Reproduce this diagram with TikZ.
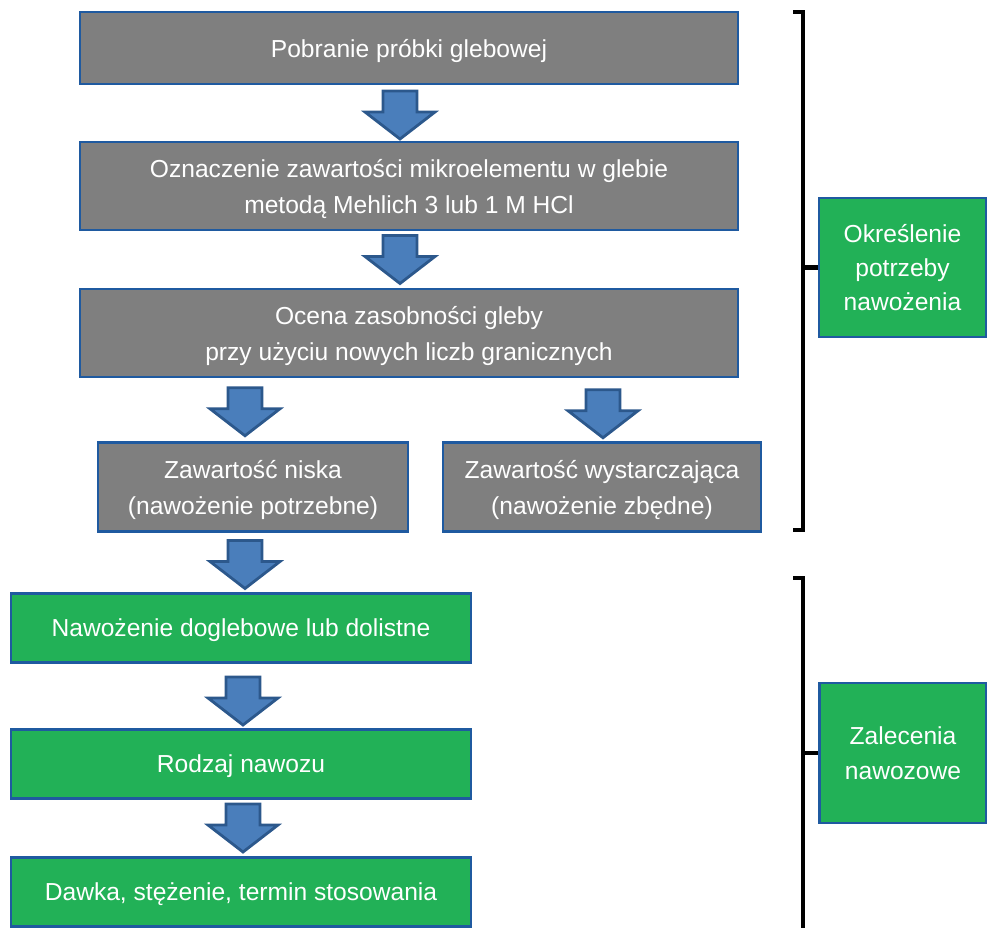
\documentclass[tikz,border=0pt]{standalone}
\usepackage{fontspec}
\setmainfont{Liberation Sans}
\usetikzlibrary{positioning,calc}

\definecolor{boxgray}{RGB}{127,127,127}
\definecolor{boxblue}{RGB}{31,90,160}
\definecolor{boxgreen}{RGB}{34,177,87}
\definecolor{arrowblue}{RGB}{74,126,187}
\definecolor{arrowdark}{RGB}{44,88,140}

\tikzset{
    downarrow/.pic={
        \draw[arrowline] (-17,-24) -- (17,-24) -- (17,-3) -- (35,-3)
            -- (0,24) -- (-35,-3) -- (-17,-3) -- cycle;
    }
}

\begin{document}
\begin{tikzpicture}
                [
                x=0.02cm, y=-0.02cm,
                every node/.style={text=white, align=center, inner sep=0pt, text depth=0pt,
                    font=\fontsize{14pt}{20.5pt}\selectfont},
                flowbox/.style={draw=boxblue, line width=1.4pt},
                graybox/.style={flowbox, fill=boxgray},
                greenbox/.style={flowbox, fill=boxgreen, minimum width=9.2cm, minimum height=1.38cm},
                sidebox/.style={flowbox, fill=boxgreen, minimum width=3.34cm, minimum height=2.78cm,
                    font=\fontsize{14pt}{19.6pt}\selectfont},
                arrowline/.style={fill=arrowblue, draw=arrowdark, line width=1.6pt, line join=miter},
                bracket/.style={draw=black, line width=2.3pt, line join=miter}
                ]
                \useasboundingbox (0,0) rectangle (987,928);
                % Soil analysis (gray boxes)
                \node[graybox, minimum width=13.16cm, minimum height=1.44cm] (pobranie) at (409,48)
                    {Pobranie próbki glebowej};
                \node[graybox, minimum width=13.16cm, minimum height=1.76cm] (oznaczenie) at (409,186)
                    {Oznaczenie zawartości mikroelementu w glebie\\metodą Mehlich 3 lub 1 M HCl};
                \node[graybox, minimum width=13.16cm, minimum height=1.76cm] (ocena) at (409,333)
                    {Ocena zasobności gleby\\przy użyciu nowych liczb granicznych};
                \node[graybox, minimum width=6.2cm, minimum height=1.78cm] (niska) at (253,487)
                    {Zawartość niska\\(nawożenie potrzebne)};
                \node[graybox, minimum width=6.36cm, minimum height=1.78cm] (wystarczajaca) at (602,487)
                    {Zawartość wystarczająca\\(nawożenie zbędne)};
                % Recommendations (green boxes)
                \node[greenbox] (doglebowe) at (241,628) {Nawożenie doglebowe lub dolistne};
                \node[greenbox] (rodzaj) at (241,764) {Rodzaj nawozu};
                \node[greenbox] (dawka) at (241,892) {Dawka, stężenie, termin stosowania};
                % Side labels
                \node[sidebox] (okreslenie) at (902.5,267.5) {Określenie\\potrzeby\\nawożenia};
                \node[sidebox, minimum height=2.8cm] (zalecenia) at (903,753) {Zalecenia\\nawozowe};
                % Block arrows
                \pic at ($(pobranie.south)!0.5!(oznaczenie.north) + (-9,2)$) {downarrow};
                \pic at ($(oznaczenie.south)!0.5!(ocena.north) + (-9,0)$) {downarrow};
                \pic at ($(ocena.south -| niska.north)!0.5!(niska.north) + (-8,2)$) {downarrow};
                \pic at ($(ocena.south -| wystarczajaca.north)!0.5!(wystarczajaca.north) + (1,4)$) {downarrow};
                \pic at ($(niska.south -| doglebowe.north)!0.5!(doglebowe.north) + (4,2)$) {downarrow};
                \pic at ($(doglebowe.south)!0.5!(rodzaj.north) + (2,5)$) {downarrow};
                \pic at ($(rodzaj.south)!0.5!(dawka.north) + (2,0)$) {downarrow};
                % Brackets
                \coordinate (top1) at (803,12);
                \coordinate (bot1) at (803,530);
                \coordinate (top2) at (803,578);
                \coordinate (bot2) at (803,940);
                \draw[bracket] ([xshift=-0.2cm]top1) -- (top1) -- (bot1) -- ([xshift=-0.2cm]bot1);
                \draw[bracket] ([xshift=-0.2cm]top2) -- (top2) -- (bot2);
                \draw[bracket] (top1 |- okreslenie.west) -- (okreslenie.west);
                \draw[bracket] (top2 |- zalecenia.west) -- (zalecenia.west);
            \end{tikzpicture}
\end{document}
